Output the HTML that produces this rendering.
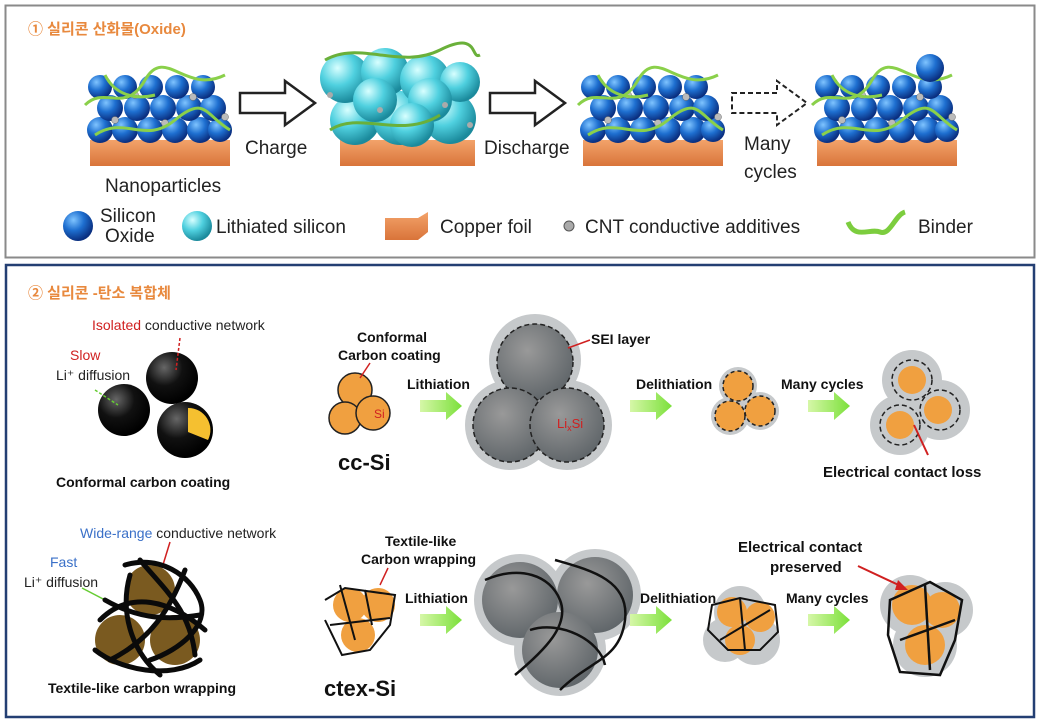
<!DOCTYPE html>
<html><head><meta charset="utf-8"><style>
body{margin:0;background:#fff;}
svg{display:block;font-family:"Liberation Sans","Noto Sans CJK KR",sans-serif;}
.b{font-weight:bold}
</style></head><body>
<svg width="1040" height="723" viewBox="0 0 1040 723" xmlns="http://www.w3.org/2000/svg">
<defs>
<radialGradient id="bl" cx="35%" cy="30%" r="70%"><stop offset="0" stop-color="#7fc4ff"/><stop offset="0.5" stop-color="#1e6fd0"/><stop offset="1" stop-color="#0a2f80"/></radialGradient>
<radialGradient id="cy" cx="35%" cy="30%" r="70%"><stop offset="0" stop-color="#d8ffff"/><stop offset="0.5" stop-color="#4fd0df"/><stop offset="1" stop-color="#1b8a9c"/></radialGradient>
<radialGradient id="bk" cx="35%" cy="30%" r="70%"><stop offset="0" stop-color="#666"/><stop offset="0.5" stop-color="#111"/><stop offset="1" stop-color="#000"/></radialGradient>
<radialGradient id="gr" cx="40%" cy="35%" r="70%"><stop offset="0" stop-color="#999"/><stop offset="1" stop-color="#5e6468"/></radialGradient>
<linearGradient id="cu" x1="0" y1="0" x2="0" y2="1"><stop offset="0" stop-color="#f3a36a"/><stop offset="1" stop-color="#d9743a"/></linearGradient>
<linearGradient id="ga" x1="0" y1="0" x2="1" y2="0"><stop offset="0" stop-color="#d6f7a8"/><stop offset="1" stop-color="#7be03a"/></linearGradient>
<g id="gar"><polygon points="0,-6 26,-6 26,-14 42,0 26,14 26,6 0,6" fill="url(#ga)"/></g>
<g id="nano">
<rect x="5" y="65" width="140" height="26" fill="url(#cu)"/>
<g fill="url(#bl)">
<circle cx="15" cy="55" r="13"/><circle cx="40" cy="55" r="13"/><circle cx="65" cy="55" r="13"/><circle cx="90" cy="55" r="13"/><circle cx="115" cy="55" r="13"/><circle cx="135" cy="55" r="12"/>
<circle cx="25" cy="33" r="13"/><circle cx="52" cy="33" r="13"/><circle cx="78" cy="33" r="13"/><circle cx="104" cy="33" r="13"/><circle cx="128" cy="33" r="13"/>
<circle cx="15" cy="12" r="12"/><circle cx="40" cy="12" r="12"/><circle cx="66" cy="12" r="12"/><circle cx="92" cy="12" r="12"/><circle cx="118" cy="12" r="12"/>
</g>
<g fill="#bbb" stroke="#666" stroke-width="0.5"><circle cx="30" cy="45" r="3.5"/><circle cx="80" cy="48" r="3.5"/><circle cx="108" cy="22" r="3.5"/><circle cx="140" cy="42" r="3.5"/><circle cx="50" cy="20" r="3.5"/></g>
<g fill="none" stroke="#8ad04a" stroke-width="3"><path d="M0,30 C20,10 40,40 60,5 S100,20 140,0"/><path d="M10,60 C40,40 60,70 90,45 S120,40 145,55"/><path d="M20,0 C30,20 50,25 70,20"/></g>
</g>
<g id="oarr"><polygon points="0,-10 45,-10 45,-22 75,0 45,22 45,10 0,10" fill="#fff" stroke="#222" stroke-width="2.5"/></g>
</defs>

<!-- top panel -->
<rect x="5.5" y="5.5" width="1029" height="252" fill="#fff" stroke="#8a8a8a" stroke-width="2"/>
<text x="28" y="34" fill="#e8893e" font-size="15" class="b">① 실리콘 산화물(Oxide)</text>
<use href="#nano" x="85" y="75"/>
<use href="#oarr" x="240" y="103"/>
<text x="245" y="154" font-size="19" fill="#222">Charge</text>
<rect x="340" y="140" width="135" height="26" fill="url(#cu)"/>
<g fill="url(#cy)">
<circle cx="355" cy="120" r="25"/><circle cx="400" cy="118" r="27"/><circle cx="450" cy="118" r="26"/>
<circle cx="345" cy="78" r="25"/><circle cx="385" cy="72" r="24"/><circle cx="425" cy="80" r="25"/><circle cx="460" cy="82" r="20"/>
<circle cx="375" cy="100" r="22"/><circle cx="430" cy="100" r="22"/><circle cx="412" cy="125" r="22"/>
</g>
<g fill="#aaa"><circle cx="330" cy="95" r="3"/><circle cx="380" cy="110" r="3"/><circle cx="445" cy="105" r="3"/><circle cx="470" cy="125" r="3"/></g>
<g fill="none" stroke="#6ab03a" stroke-width="3"><path d="M325,60 C360,40 400,70 440,50 S470,60 480,55"/><path d="M330,130 C360,110 400,140 440,115"/></g>
<use href="#oarr" x="490" y="103"/>
<text x="484" y="154" font-size="19" fill="#222">Discharge</text>
<use href="#nano" x="578" y="75"/>
<g><polygon points="732,-10 777,-10 777,-22 807,0 777,22 777,10 732,10" transform="translate(0,103)" fill="#fff" stroke="#222" stroke-width="2" stroke-dasharray="5,3"/></g>
<text x="744" y="150" font-size="19" fill="#222">Many</text>
<text x="744" y="178" font-size="19" fill="#222">cycles</text>
<use href="#nano" x="812" y="75"/>
<circle cx="930" cy="68" r="14" fill="url(#bl)"/>
<text x="105" y="192" font-size="19" fill="#222">Nanoparticles</text>
<!-- legend -->
<circle cx="78" cy="226" r="15" fill="url(#bl)"/>
<text x="100" y="222" font-size="19" fill="#222">Silicon</text>
<text x="105" y="242" font-size="19" fill="#222">Oxide</text>
<circle cx="197" cy="226" r="15" fill="url(#cy)"/>
<text x="216" y="233" font-size="19" fill="#222">Lithiated silicon</text>
<polygon points="385,218 418,218 428,212 428,232 418,240 385,240" fill="url(#cu)"/>
<text x="440" y="233" font-size="19" fill="#222">Copper foil</text>
<circle cx="569" cy="226" r="5" fill="#aaa" stroke="#555"/>
<text x="585" y="233" font-size="19" fill="#222">CNT conductive additives</text>
<path d="M848,222 C855,240 870,228 880,232 S895,215 905,212" fill="none" stroke="#7ccd3e" stroke-width="5"/>
<text x="918" y="233" font-size="19" fill="#222">Binder</text>

<!-- bottom panel -->
<rect x="6" y="265" width="1028" height="452" fill="#fff" stroke="#243f73" stroke-width="2.5"/>
<text x="28" y="298" fill="#e8893e" font-size="15" class="b">② 실리콘 -탄소 복합체</text>

<!-- conformal spheres -->
<circle cx="172" cy="378" r="26" fill="url(#bk)"/>
<circle cx="124" cy="410" r="26" fill="url(#bk)"/>
<circle cx="185" cy="430" r="28" fill="url(#bk)"/>
<path d="M188,408 L188,432 L208,440 A22,22 0 0 0 188,408Z" fill="#f5c030"/>
<text x="92" y="330" font-size="14"><tspan fill="#d02020">Isolated</tspan><tspan fill="#222"> conductive network</tspan></text>
<text x="70" y="360" font-size="14" fill="#d02020">Slow</text>
<text x="56" y="380" font-size="14" fill="#222">Li⁺ diffusion</text>
<line x1="180" y1="338" x2="176" y2="370" stroke="#d02020" stroke-width="1.5" stroke-dasharray="3,2"/>
<line x1="95" y1="390" x2="118" y2="405" stroke="#6c3" stroke-width="1.5" stroke-dasharray="3,2"/>
<text x="56" y="487" font-size="14" class="b" fill="#111">Conformal carbon coating</text>

<text x="357" y="342" font-size="14" class="b" fill="#111">Conformal</text>
<text x="338" y="360" font-size="14" class="b" fill="#111">Carbon coating</text>
<g fill="#f0a040" stroke="#222" stroke-width="1.5"><circle cx="355" cy="390" r="17"/><circle cx="345" cy="418" r="16"/><circle cx="373" cy="413" r="17"/></g>
<text x="374" y="418" font-size="12" fill="#d02020">Si</text>
<line x1="370" y1="363" x2="360" y2="378" stroke="#d02020" stroke-width="1.5"/>
<text x="338" y="470" font-size="22" class="b" fill="#111">cc-Si</text>
<use href="#gar" x="420" y="406"/>
<text x="407" y="389" font-size="14" class="b" fill="#111">Lithiation</text>
<g fill="#c6c9cb"><circle cx="535" cy="360" r="46"/><circle cx="510" cy="425" r="45"/><circle cx="567" cy="425" r="45"/></g>
<g fill="url(#gr)" stroke="#222" stroke-width="1.5" stroke-dasharray="5,3"><circle cx="535" cy="362" r="38"/><circle cx="510" cy="425" r="37"/><circle cx="567" cy="425" r="37"/></g>
<text x="557" y="428" font-size="13" fill="#d02020">Li<tspan font-size="9" dy="3">x</tspan><tspan dy="-3">Si</tspan></text>
<text x="591" y="344" font-size="14" class="b" fill="#111">SEI layer</text>
<line x1="590" y1="340" x2="568" y2="348" stroke="#d02020" stroke-width="1.5"/>
<use href="#gar" x="630" y="406"/>
<text x="636" y="389" font-size="14" class="b" fill="#111">Delithiation</text>
<g fill="#c6c9cb"><circle cx="738" cy="386" r="19"/><circle cx="730" cy="416" r="19"/><circle cx="760" cy="411" r="19"/></g>
<g fill="#f0a040" stroke="#222" stroke-width="1.5" stroke-dasharray="4,3"><circle cx="738" cy="386" r="15"/><circle cx="730" cy="416" r="15"/><circle cx="760" cy="411" r="15"/></g>
<use href="#gar" x="808" y="406"/>
<text x="781" y="389" font-size="14" class="b" fill="#111">Many cycles</text>
<g fill="#c6c9cb"><circle cx="912" cy="380" r="30"/><circle cx="900" cy="425" r="30"/><circle cx="940" cy="410" r="30"/></g>
<g fill="#f0a040"><circle cx="912" cy="380" r="14"/><circle cx="900" cy="425" r="14"/><circle cx="938" cy="410" r="14"/></g>
<g fill="none" stroke="#222" stroke-width="1.5" stroke-dasharray="5,3"><circle cx="912" cy="380" r="20"/><circle cx="900" cy="425" r="20"/><circle cx="940" cy="410" r="20"/></g>
<line x1="928" y1="455" x2="914" y2="425" stroke="#d02020" stroke-width="2"/>
<text x="823" y="477" font-size="15" class="b" fill="#111">Electrical contact loss</text>

<!-- textile -->
<text x="80" y="538" font-size="14"><tspan fill="#3a70c8">Wide-range</tspan><tspan fill="#222"> conductive network</tspan></text>
<text x="50" y="567" font-size="14" fill="#3a70c8">Fast</text>
<text x="24" y="587" font-size="14" fill="#222">Li⁺ diffusion</text>
<line x1="170" y1="542" x2="162" y2="568" stroke="#d02020" stroke-width="1.5"/>
<line x1="82" y1="588" x2="128" y2="612" stroke="#6c3" stroke-width="1.5"/>
<g fill="#7a5a20"><circle cx="150" cy="590" r="25"/><circle cx="120" cy="640" r="25"/><circle cx="175" cy="640" r="25"/></g>
<g fill="none" stroke="#0a0a0a" stroke-width="5" stroke-linecap="round">
<path d="M125,565 C160,555 190,575 200,600 S180,650 150,660"/><path d="M100,620 C130,590 170,600 205,630"/><path d="M95,650 C120,670 170,680 200,660"/><path d="M130,575 C120,610 130,650 160,675"/><path d="M185,570 C170,610 150,640 110,660"/><path d="M105,600 C140,620 170,620 200,615"/><path d="M140,560 C165,590 190,610 195,655"/></g>
<text x="48" y="693" font-size="14" class="b" fill="#111">Textile-like carbon wrapping</text>

<text x="385" y="546" font-size="14" class="b" fill="#111">Textile-like</text>
<text x="361" y="564" font-size="14" class="b" fill="#111">Carbon wrapping</text>
<line x1="388" y1="568" x2="380" y2="585" stroke="#d02020" stroke-width="1.5"/>
<g fill="#f0a040"><circle cx="350" cy="605" r="17"/><circle cx="378" cy="605" r="17"/><circle cx="358" cy="635" r="17"/></g>
<g fill="none" stroke="#111" stroke-width="2"><path d="M325,600 L345,588 L395,595 L390,625 L370,650 L342,655 L325,620"/><path d="M340,585 L355,640"/><path d="M330,625 L390,618"/><path d="M365,590 L372,625"/></g>
<text x="324" y="696" font-size="22" class="b" fill="#111">ctex-Si</text>
<use href="#gar" x="420" y="620"/>
<text x="405" y="603" font-size="14" class="b" fill="#111">Lithiation</text>
<g fill="#c6c9cb"><circle cx="520" cy="600" r="46"/><circle cx="595" cy="595" r="46"/><circle cx="560" cy="650" r="46"/></g>
<g fill="url(#gr)"><circle cx="520" cy="600" r="38"/><circle cx="595" cy="595" r="38"/><circle cx="560" cy="650" r="38"/></g>
<g fill="none" stroke="#111" stroke-width="2.5"><path d="M485,580 C520,565 550,575 560,600 S545,650 515,675"/><path d="M555,560 C590,570 630,580 625,620 S590,660 560,690"/><path d="M530,630 C560,620 600,640 605,665"/></g>
<use href="#gar" x="630" y="620"/>
<text x="640" y="603" font-size="14" class="b" fill="#111">Delithiation</text>
<g fill="#c6c9cb"><circle cx="740" cy="612" r="26"/><circle cx="755" cy="640" r="25"/><circle cx="725" cy="640" r="22"/></g>
<g fill="#f0a040"><circle cx="732" cy="612" r="15"/><circle cx="760" cy="617" r="15"/><circle cx="740" cy="640" r="15"/></g>
<g fill="none" stroke="#111" stroke-width="2"><path d="M712,605 L740,598 L775,605 L778,632 L760,650 L728,650 L708,630Z"/><path d="M720,640 L770,610"/><path d="M740,598 L745,650"/></g>
<use href="#gar" x="808" y="620"/>
<text x="786" y="603" font-size="14" class="b" fill="#111">Many cycles</text>
<g fill="#c6c9cb"><circle cx="910" cy="605" r="30"/><circle cx="945" cy="610" r="28"/><circle cx="925" cy="645" r="32"/></g>
<g fill="#f0a040"><circle cx="912" cy="605" r="20"/><circle cx="942" cy="610" r="18"/><circle cx="925" cy="645" r="20"/></g>
<g fill="none" stroke="#111" stroke-width="2.5"><path d="M890,600 L930,582 L962,600 L955,640 L940,675 L900,672 L888,635Z"/><path d="M900,640 L955,620"/><path d="M925,585 L930,670"/></g>
<text x="738" y="552" font-size="15" class="b" fill="#111">Electrical contact</text>
<text x="770" y="572" font-size="15" class="b" fill="#111">preserved</text>
<line x1="858" y1="566" x2="905" y2="588" stroke="#d02020" stroke-width="2"/>
<polygon points="908,590 898,580 895,590" fill="#d02020"/>
</svg>
</body></html>
